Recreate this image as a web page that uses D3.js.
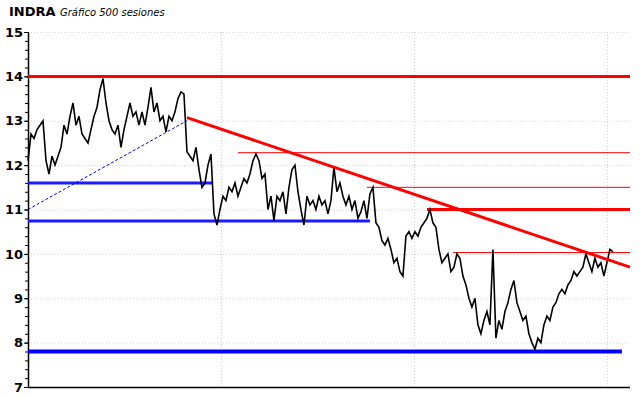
<!DOCTYPE html>
<html>
<head>
<meta charset="utf-8">
<script src="https://cdnjs.cloudflare.com/ajax/libs/d3/7.8.5/d3.min.js"></script>
<style>
  body { margin: 0; background: #fff; }
  svg { display: block; }
</style>
</head>
<body>
<div id="container"></div>
<script>
// closes, sampled about every 2.6 sessions
var closes = [
  12.1, 12.7, 12.6, 12.8, 12.9, 13.0, 12.1, 11.8, 12.2, 12.0,
  12.2, 12.4, 12.9, 12.7, 13.1, 13.4, 12.9, 13.1, 12.7, 12.6,
  12.5, 12.8, 13.1, 13.3, 13.7, 13.95, 13.4, 13.0, 12.8, 12.7,
  12.9, 12.4, 12.8, 13.1, 13.4, 13.1, 13.2, 12.9, 13.2, 12.9,
  13.3, 13.75, 13.2, 13.4, 13.0, 13.1, 12.75, 13.1, 13.0, 13.2,
  13.5, 13.65, 13.6, 12.3, 12.2, 12.1, 12.4, 11.9, 11.5, 11.6,
  12.0, 12.25, 10.9, 10.65, 11.0, 11.3, 11.2, 11.5, 11.4, 11.6,
  11.3, 11.5, 11.7, 11.6, 11.8, 12.1, 12.25, 12.1, 11.7, 11.8,
  11.0, 11.3, 10.75, 11.3, 11.2, 11.4, 10.9, 11.5, 11.9, 12.0,
  11.4, 11.0, 10.65, 11.3, 11.1, 11.2, 11.0, 11.3, 11.1, 11.2,
  10.9, 11.2, 11.95, 11.4, 11.6, 11.3, 11.1, 11.3, 11.0, 11.2,
  10.8, 10.95, 11.2, 10.8, 11.35, 11.5, 10.7, 10.6, 10.3, 10.2,
  10.35, 10.1, 9.8, 9.9, 9.6, 9.5, 10.4, 10.5, 10.35, 10.5,
  10.4, 10.6, 10.7, 10.8, 11.0, 10.7, 10.6, 10.1, 9.8, 9.9,
  10.0, 9.6, 9.7, 10.0, 9.9, 9.5, 9.3, 9.0, 8.8, 9.0,
  8.4, 8.2, 8.5, 8.7, 8.4, 10.1, 8.1, 8.5, 8.3, 8.7,
  8.9, 9.2, 9.4, 8.9, 8.7, 8.5, 8.6, 8.2, 8.0, 7.85,
  8.1, 8.0, 8.4, 8.6, 8.5, 8.8, 8.9, 9.1, 9.2, 9.1,
  9.3, 9.4, 9.6, 9.5, 9.6, 9.7, 10.0, 9.8, 9.6, 9.9,
  9.7, 9.8, 9.5, 9.8, 10.1, 10.05
];

var yTicks = [7, 8, 9, 10, 11, 12, 13, 14, 15];
var xGrid = [64.3, 128.7, 193];

// horizontal levels: [value, from, to, colour, width]
var levels = [
  [14, 0, 200.7, "#ff0000", 3],
  [11, 133, 200.7, "#ff0000", 3],
  [12.28, 70, 200.7, "#ff0000", 1],
  [11.5, 113, 200.7, "#ff0000", 1],
  [10.03, 141.7, 200.7, "#ff0000", 1],
  [11.6, 0, 61.7, "#1a1aff", 3],
  [10.74, 0, 114, "#1a1aff", 3],
  [7.8, 0, 198, "#0000ff", 4]
];

// trend lines: [x1, v1, x2, v2, colour, width, dash]
var trends = [
  [53, 13.07, 200.7, 9.7, "#ff0000", 3, null],
  [0, 11.0, 53, 13.0, "#0000ff", 1, "3,2"]
];

var margin = { top: 32, right: 10, bottom: 11, left: 28 };
var width = 640 - margin.left - margin.right,
    height = 398 - margin.top - margin.bottom;

var x = d3.scaleLinear().domain([0, 200.7]).range([0, width]),
    y = d3.scaleLinear().domain([7, 15]).range([height, 0]);

var svg = d3.select("#container").append("svg")
    .attr("width", 640)
    .attr("height", 398)
    .style("font-family", "DejaVu Sans, Verdana, sans-serif");

svg.append("text")
    .attr("x", 9)
    .attr("y", 16)
    .style("font-size", "13px")
    .style("font-weight", "bold")
    .text("INDRA");

svg.append("text")
    .attr("x", 60)
    .attr("y", 16)
    .style("font-size", "10px")
    .style("font-style", "italic")
    .text("Gráfico 500 sesiones");

var graph = svg.append("g")
    .attr("transform", "translate(" + margin.left + "," + margin.top + ")");

// grid
graph.selectAll(".hgrid")
    .data(yTicks.slice(1))
    .enter().append("line")
        .attr("x1", 0)
        .attr("x2", width)
        .attr("y1", function(d) { return y(d) + 0.5; })
        .attr("y2", function(d) { return y(d) + 0.5; })
        .attr("stroke", "#d6d0d6")
        .attr("stroke-dasharray", "1,2");

graph.selectAll(".vgrid")
    .data(xGrid)
    .enter().append("line")
        .attr("x1", function(d) { return Math.round(x(d)) + 0.5; })
        .attr("x2", function(d) { return Math.round(x(d)) + 0.5; })
        .attr("y1", 0)
        .attr("y2", height)
        .attr("stroke", "#d6d0d6")
        .attr("stroke-dasharray", "1,2");

// y axis
var yAxis = d3.axisLeft(y).tickValues(yTicks).tickSize(4).tickFormat(d3.format("d"));
var ax = graph.append("g").call(yAxis);
ax.select(".domain").remove();
ax.selectAll("text")
    .attr("x", -5)
    .style("font-size", "13px")
    .style("font-weight", "bold")
    .style("font-family", "DejaVu Sans, Verdana, sans-serif")
    .attr("fill", "#000");

graph.append("g")
    .call(d3.axisLeft(y).ticks(40).tickSize(3).tickFormat(""))
    .select(".domain").remove();

graph.append("line")
    .attr("x1", 0.5).attr("x2", 0.5)
    .attr("y1", 0).attr("y2", height)
    .attr("stroke", "#000")
    .attr("stroke-width", 1.5);

graph.append("line")
    .attr("x1", 0).attr("x2", width)
    .attr("y1", height + 0.5).attr("y2", height + 0.5)
    .attr("stroke", "#000")
    .attr("stroke-width", 1.5);

// levels
graph.selectAll(".level")
    .data(levels)
    .enter().append("line")
        .attr("x1", function(d) { return x(d[1]); })
        .attr("x2", function(d) { return x(d[2]); })
        .attr("y1", function(d) { return y(d[0]); })
        .attr("y2", function(d) { return y(d[0]); })
        .attr("stroke", function(d) { return d[3]; })
        .attr("stroke-width", function(d) { return d[4]; });

// price
var line = d3.line()
    .x(function(d, i) { return x(i); })
    .y(function(d) { return y(d); });

graph.append("path")
    .datum(closes)
    .attr("fill", "none")
    .attr("stroke", "#000")
    .attr("stroke-width", 1.6)
    .attr("d", line);

// trends
graph.selectAll(".trend")
    .data(trends)
    .enter().append("line")
        .attr("x1", function(d) { return x(d[0]); })
        .attr("y1", function(d) { return y(d[1]); })
        .attr("x2", function(d) { return x(d[2]); })
        .attr("y2", function(d) { return y(d[3]); })
        .attr("stroke", function(d) { return d[4]; })
        .attr("stroke-width", function(d) { return d[5]; })
        .attr("stroke-dasharray", function(d) { return d[6]; });
</script>
</body>
</html>
